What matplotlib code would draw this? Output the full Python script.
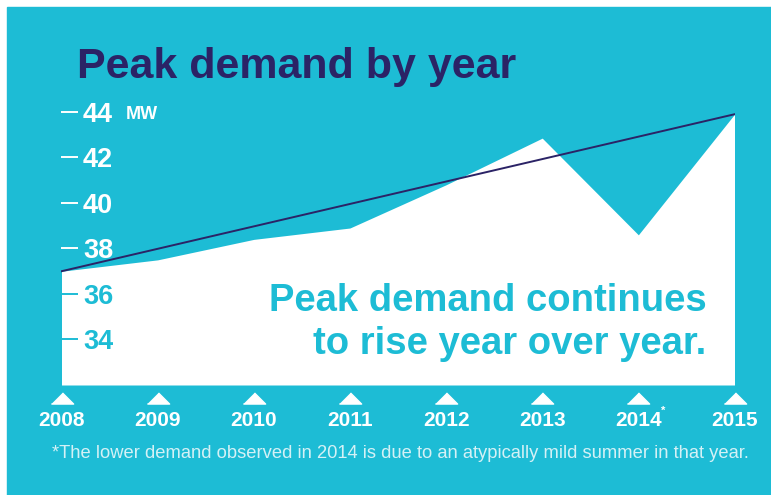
import matplotlib
matplotlib.use("Agg")
import matplotlib.pyplot as plt
from matplotlib.patches import Rectangle
from matplotlib.transforms import offset_copy

# peak demand in MW per year
years = [2008, 2009, 2010, 2011, 2012, 2013, 2014, 2015]
year_labels = ["2008", "2009", "2010", "2011", "2012", "2013", "2014", "2015"]
peak_mw = [37.0, 37.5, 38.4, 38.9, 40.8, 42.85, 38.6, 43.9]

# straight trend line from first to last year
trend_years = [2008, 2015]
trend_mw = [37.0, 43.9]

y_ticks = [34, 36, 38, 40, 42, 44]
y_tick_colors = ["#1dbcd5", "#1dbcd5", "white", "white", "white", "white"]

TEAL = "#1dbcd5"
NAVY = "#2b2366"

plt.rcParams["font.family"] = ["Liberation Sans", "DejaVu Sans"]

fig = plt.figure(figsize=(7.71, 4.95), dpi=100)
fig.patches.append(Rectangle((7 / 771, 0), 1, (495 - 7) / 495,
                             transform=fig.transFigure, color=TEAL, zorder=-10))

ax = fig.add_axes([61.5 / 771, 110 / 495, 673 / 771, 284.4 / 495])
ax.set_facecolor("none")
ax.set_xlim(2008, 2015)
ax.set_ylim(32, 44.5)
for s in ax.spines.values():
    s.set_visible(False)

# demand area
ax.fill_between(years, peak_mw, 32, color="white", lw=0, zorder=1)
ax.plot(trend_years, trend_mw, color=NAVY, lw=1.4, zorder=3)

# y axis: dashes with labels to their right
ax.set_yticks(y_ticks)
ax.tick_params(axis="y", direction="in", length=12.5, width=1.4, pad=-15.5,
               labelsize=19.5)
for tick, c in zip(ax.yaxis.get_major_ticks(), y_tick_colors):
    tick.tick1line.set_markeredgecolor(c)
    tick.tick1line.set_zorder(4)
    tick.label1.set_color(c)
    tick.label1.set_fontweight("bold")
    tick.label1.set_horizontalalignment("left")
ax.annotate("MW", xy=(2008, 44), xytext=(46, -1.5), textcoords="offset points",
            color="white", fontsize=13, fontweight="bold", va="center", ha="left")

# x axis: years with small triangles above
ax.set_xticks(years, year_labels)
ax.tick_params(axis="x", length=0, pad=19, labelsize=15, labelcolor="white")
for lab in ax.get_xticklabels():
    lab.set_fontweight("bold")
ax.annotate("*", xy=(2014, 32), xytext=(16.5, -15), textcoords="offset points",
            color="white", fontsize=8, fontweight="bold", ha="left", va="top",
            annotation_clip=False)
tri = [(-1, -0.5), (1, -0.5), (0, 0.5)]
ax.plot(years, [32] * len(years), ls="none", marker=tri, ms=16, color="white",
        transform=offset_copy(ax.transData, fig=fig, y=-9.7, units="points"),
        clip_on=False)

ax.text(2014.71, 34.75, "Peak demand continues\nto rise year over year.",
        ha="right", va="center", multialignment="right", linespacing=1.25,
        color=TEAL, fontsize=27.5, fontweight="bold", zorder=5)

fig.text(77 / 771, 1 - 78 / 495, "Peak demand by year", color=NAVY,
         fontsize=31, fontweight="bold", va="baseline", ha="left")
fig.text(400 / 771, 1 - 454 / 495,
         "*The lower demand observed in 2014 is due to an atypically mild summer in that year.",
         color="#d4f1f6", fontsize=13.2, ha="center", va="center")

fig.savefig("out.png", dpi=100)
